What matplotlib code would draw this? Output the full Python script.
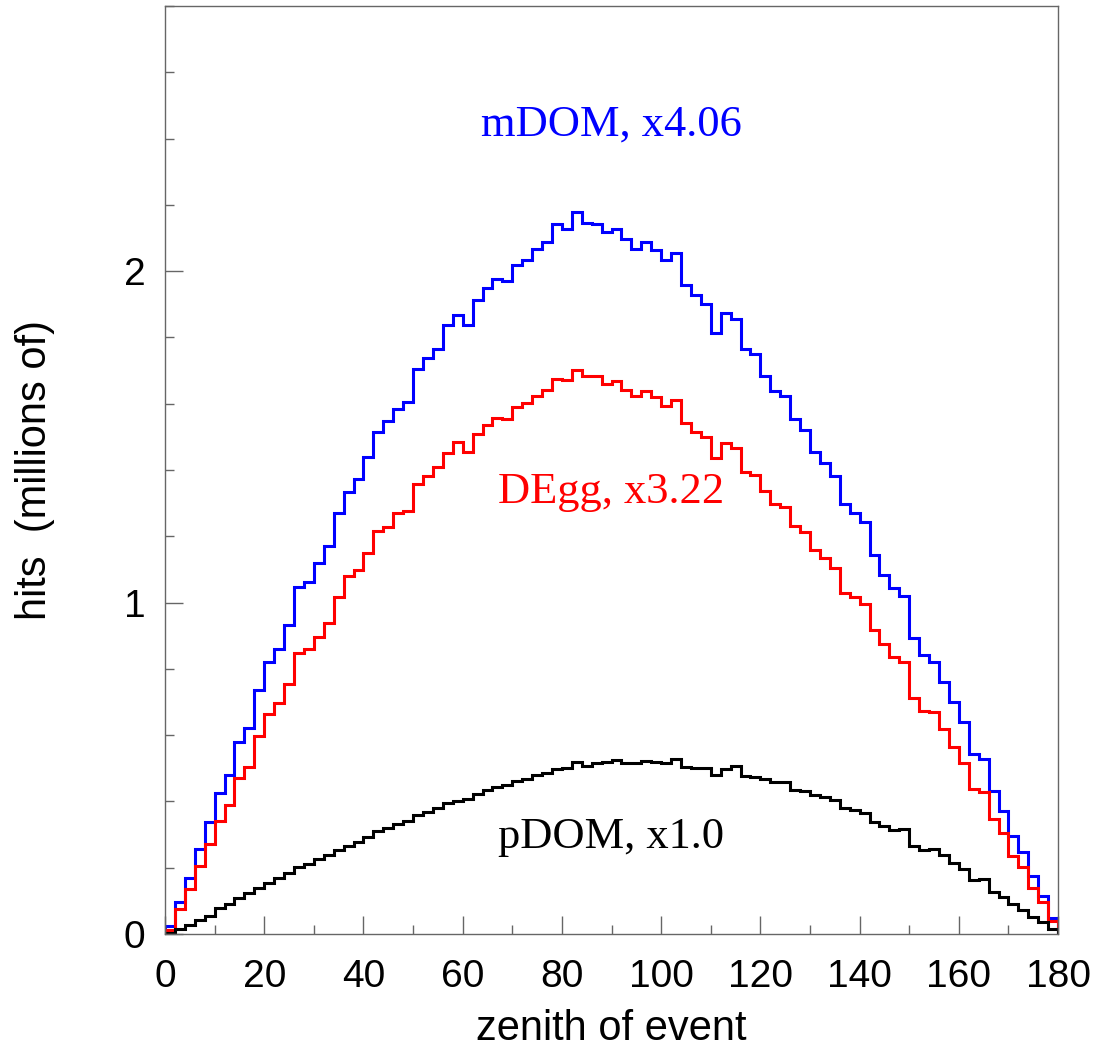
import numpy as np
import matplotlib
matplotlib.use("Agg")
import matplotlib.pyplot as plt
from matplotlib.ticker import MultipleLocator

# bin contents (millions of hits), 2 degree bins from 0 to 180
mdom = [0.025, 0.096, 0.169, 0.256, 0.339, 0.424, 0.480, 0.580, 0.622, 0.736,
        0.820, 0.859, 0.932, 1.048, 1.061, 1.120, 1.171, 1.271, 1.334, 1.373,
        1.440, 1.515, 1.548, 1.585, 1.606, 1.706, 1.739, 1.764, 1.837, 1.868,
        1.839, 1.913, 1.950, 1.975, 1.971, 2.020, 2.033, 2.068, 2.088, 2.141,
        2.128, 2.177, 2.144, 2.141, 2.119, 2.128, 2.097, 2.068, 2.088, 2.063,
        2.033, 2.054, 1.958, 1.928, 1.900, 1.814, 1.875, 1.857, 1.765, 1.749,
        1.685, 1.639, 1.623, 1.553, 1.520, 1.455, 1.422, 1.382, 1.297, 1.269,
        1.244, 1.145, 1.083, 1.043, 1.020, 0.894, 0.842, 0.820, 0.761, 0.699,
        0.640, 0.543, 0.527, 0.431, 0.372, 0.297, 0.248, 0.175, 0.116, 0.047]

degg = [0.012, 0.075, 0.135, 0.206, 0.272, 0.342, 0.389, 0.470, 0.505, 0.597,
        0.663, 0.696, 0.754, 0.849, 0.859, 0.897, 0.937, 1.018, 1.080, 1.098,
        1.150, 1.216, 1.229, 1.269, 1.277, 1.357, 1.382, 1.408, 1.452, 1.483,
        1.455, 1.508, 1.535, 1.556, 1.553, 1.589, 1.601, 1.623, 1.641, 1.676,
        1.671, 1.703, 1.684, 1.683, 1.661, 1.668, 1.641, 1.623, 1.639, 1.619,
        1.593, 1.611, 1.541, 1.515, 1.500, 1.435, 1.480, 1.465, 1.395, 1.385,
        1.337, 1.297, 1.287, 1.231, 1.214, 1.160, 1.135, 1.105, 1.030, 1.016,
        0.995, 0.917, 0.875, 0.837, 0.821, 0.713, 0.674, 0.669, 0.618, 0.565,
        0.517, 0.437, 0.429, 0.347, 0.304, 0.236, 0.201, 0.138, 0.096, 0.040]

pdom = [0.003, 0.015, 0.027, 0.042, 0.055, 0.077, 0.090, 0.108, 0.123, 0.140,
        0.155, 0.168, 0.185, 0.203, 0.211, 0.226, 0.237, 0.253, 0.266, 0.279,
        0.294, 0.311, 0.321, 0.332, 0.342, 0.359, 0.369, 0.379, 0.396, 0.400,
        0.406, 0.422, 0.434, 0.444, 0.449, 0.462, 0.467, 0.480, 0.485, 0.498,
        0.502, 0.518, 0.508, 0.515, 0.518, 0.525, 0.517, 0.515, 0.523, 0.520,
        0.515, 0.527, 0.503, 0.502, 0.500, 0.480, 0.497, 0.507, 0.477, 0.475,
        0.468, 0.460, 0.460, 0.434, 0.432, 0.419, 0.412, 0.404, 0.379, 0.374,
        0.364, 0.339, 0.326, 0.314, 0.317, 0.265, 0.253, 0.255, 0.238, 0.215,
        0.196, 0.163, 0.165, 0.126, 0.113, 0.090, 0.072, 0.052, 0.037, 0.014]

labels = ["mDOM, x4.06", "DEgg, x3.22", "pDOM, x1.0"]
label_y = [2.41, 1.30, 0.26]
colors = ["#0000ff", "#ff0000", "#000000"]

edges = np.linspace(0, 180, len(mdom) + 1)

plt.rcParams['font.family'] = ['Liberation Sans', 'DejaVu Sans']

fig = plt.figure(figsize=(10.97, 10.55), dpi=100)
ax = fig.add_axes([0.1504, 0.1147, 0.8141, 0.8796])

for vals, col in zip([mdom, degg, pdom], colors):
    ax.stairs(vals, edges, baseline=0, color=col, linewidth=2.2)

for txt, yy, col in zip(labels, label_y, colors):
    ax.text(90, yy, txt, color=col, ha='center', va='baseline',
            fontsize=32, family=['Liberation Serif', 'DejaVu Serif'])

ax.set_xlim(0, 180)
ax.set_ylim(0, 2.8)
ax.xaxis.set_major_locator(MultipleLocator(20))
ax.xaxis.set_minor_locator(MultipleLocator(10))
ax.yaxis.set_major_locator(MultipleLocator(1))
ax.yaxis.set_minor_locator(MultipleLocator(0.2))

axis_gray = "#666666"
for sp in ax.spines.values():
    sp.set_color(axis_gray)
    sp.set_linewidth(1.0)
ax.tick_params(which='both', direction='in', color=axis_gray, width=1.0,
               top=False, right=False, labelsize=28)
ax.tick_params(which='major', length=13)
ax.tick_params(which='minor', length=6.5)
ax.tick_params(axis='x', which='major', pad=18)
ax.tick_params(axis='y', which='major', pad=14)

fig.text(0.5574, 0.0142, "zenith of event", ha='center', va='baseline', fontsize=30)
fig.text(0.032, 0.5545, "hits  (millions of)", ha='center', va='center',
         rotation=90, fontsize=30)

fig.savefig("out.png", dpi=100)
